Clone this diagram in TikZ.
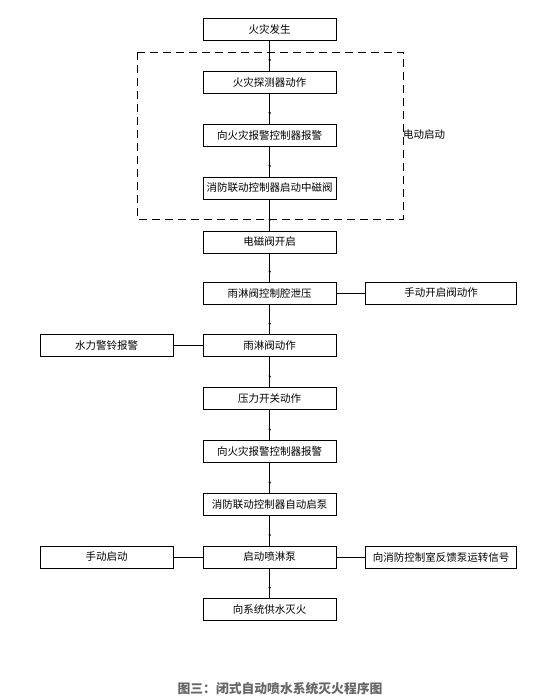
\documentclass[tikz,border=0pt]{standalone}
\usepackage{fontspec}
\newfontfamily\cjk{Noto Sans CJK SC}
\usetikzlibrary{arrows.meta,decorations.markings}
\begin{document}
\begin{tikzpicture}[x=1pt,y=-1pt,
  box/.style={draw,line width=0.8pt,minimum height=22pt,inner sep=0pt,font=\cjk\fontsize{10.5}{12}\selectfont},
  mainbox/.style={box,minimum width=133pt},
  sidebox/.style={box,minimum width=133pt},
  rbox/.style={box,minimum width=151pt},
  flow/.style={line width=0.8pt,postaction={decorate},decoration={markings,mark=at position 0.72 with {\arrow{Stealth[length=3pt,width=2.5pt]}}}},
  link/.style={line width=0.8pt}]
\useasboundingbox (0,0) rectangle (553,700);
\fill[white] (0,0) rectangle (553,700);
\node[mainbox] (n1) at (269.7,29) {火灾发生};
\node[mainbox] (n2) at (269.7,82) {火灾探测器动作};
\node[mainbox] (n3) at (269.7,135) {向火灾报警控制器报警};
\node[mainbox] (n4) at (269.7,188) {消防联动控制器启动中磁阀};
\node[mainbox] (n5) at (269.7,242) {电磁阀开启};
\node[mainbox] (n6) at (269.7,293) {雨淋阀控制腔泄压};
\node[mainbox] (n7) at (269.7,345.5) {雨淋阀动作};
\node[mainbox] (n8) at (269.7,398.5) {压力开关动作};
\node[mainbox] (n9) at (269.7,451.5) {向火灾报警控制器报警};
\node[mainbox] (n10) at (269.7,504.5) {消防联动控制器自动启泵};
\node[mainbox] (n11) at (269.7,557) {启动喷淋泵};
\node[mainbox] (n12) at (269.7,609.5) {向系统供水灭火};
\node[rbox] (r6) at (441.2,293) {手动开启阀动作};
\node[sidebox] (l7) at (106.7,345.5) {水力警铃报警};
\node[sidebox] (l11) at (106.7,557) {手动启动};
\node[rbox] (r11) at (441.2,557) {向消防控制室反馈泵运转信号};
\draw[line width=0.8pt,dash pattern=on 8pt off 5pt] (137,52) rectangle (403,219);
\node[anchor=west,inner sep=0pt,font=\cjk\fontsize{10.5}{12}\selectfont] (lab) at (403,135) {电动启动};
\foreach \a/\b in {n1/n2,n2/n3,n3/n4,n4/n5,n5/n6,n6/n7,n7/n8,n8/n9,n9/n10,n10/n11,n11/n12}
  \draw[flow] (\a.south) -- (\b.north);
\draw[link] (n6.east) -- (r6.west);
\draw[link] (l7.east) -- (n7.west);
\draw[link] (l11.east) -- (n11.west);
\draw[link] (n11.east) -- (r11.west);
\node[font=\cjk\bfseries\fontsize{12.8}{14}\selectfont,text=black!60,inner sep=0pt] (cap) at (280,689) {图三：闭式自动喷水系统灭火程序图};
\end{tikzpicture}
\end{document}
